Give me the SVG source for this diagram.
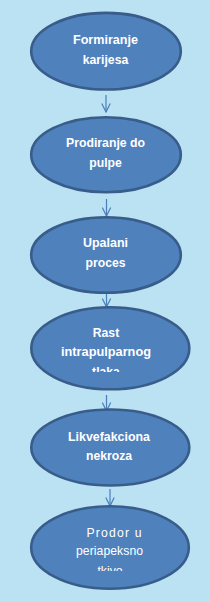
<svg xmlns="http://www.w3.org/2000/svg" width="210" height="602" viewBox="0 0 210 602">
<style>
.node ellipse{fill:#4F81BD;stroke:#385D8A;stroke-width:2.6}
.t{font-family:"Liberation Sans",Arial,sans-serif;font-size:12.2px;fill:#FFFFFF;text-anchor:middle}
.b{font-weight:bold}
.conn line{stroke:#4A7EBB;stroke-width:1.2;fill:none}
</style>
<defs>
<marker id="ah" viewBox="0 0 10 10" refX="9.5" refY="5" markerWidth="10" markerHeight="10" markerUnits="userSpaceOnUse" orient="auto">
<path d="M1,0.8 L9.5,5 L1,9.2" fill="none" stroke="#4A7EBB" stroke-width="1.2"/>
</marker>
<clipPath id="c4"><rect x="0" y="300" width="210" height="72"/></clipPath>
<clipPath id="c6"><rect x="0" y="500" width="210" height="71"/></clipPath>
</defs>
<rect x="0" y="0" width="210" height="602" fill="#BAE2F2"/>
<g class="conn">
<line x1="106" y1="95" x2="106" y2="112" marker-end="url(#ah)"/>
<line x1="106.5" y1="199" x2="106.5" y2="216" marker-end="url(#ah)"/>
<line x1="106.5" y1="292" x2="106.5" y2="307" marker-end="url(#ah)"/>
<line x1="106.5" y1="395" x2="106.5" y2="411" marker-end="url(#ah)"/>
<line x1="110" y1="489" x2="110" y2="506" marker-end="url(#ah)"/>
</g>
<g id="n1" class="node">
<ellipse cx="106" cy="51.2" rx="74.8" ry="38.3"/>
<text class="t b" x="105.5" y="43.8" textLength="65" lengthAdjust="spacingAndGlyphs">Formiranje</text>
<text class="t b" x="105.5" y="63.8">karijesa</text>
</g>
<g id="n2" class="node">
<ellipse cx="106" cy="154.7" rx="74.8" ry="37.5"/>
<text class="t b" x="105.5" y="146.7" textLength="79" lengthAdjust="spacingAndGlyphs">Prodiranje do</text>
<text class="t b" x="105.5" y="167">pulpe</text>
</g>
<g id="n3" class="node">
<ellipse cx="106" cy="255" rx="74.8" ry="37.8"/>
<text class="t b" x="105.5" y="247" textLength="45" lengthAdjust="spacingAndGlyphs">Upalani</text>
<text class="t b" x="105.5" y="266.7">proces</text>
</g>
<g id="n4" class="node">
<ellipse cx="110.3" cy="348.3" rx="79" ry="41"/>
<g clip-path="url(#c4)">
<text class="t b" x="106" y="337.3">Rast</text>
<text class="t b" x="106" y="356" textLength="90" lengthAdjust="spacingAndGlyphs">intrapulparnog</text>
<text class="t b" x="106" y="375.5">tlaka</text>
</g>
</g>
<g id="n5" class="node">
<ellipse cx="110.3" cy="447.5" rx="79" ry="38"/>
<text class="t b" x="109" y="441" textLength="82" lengthAdjust="spacingAndGlyphs">Likvefakciona</text>
<text class="t b" x="109" y="460">nekroza</text>
</g>
<g id="n6" class="node">
<ellipse cx="110" cy="547.5" rx="78.8" ry="41.3"/>
<g clip-path="url(#c6)">
<text class="t" x="114" y="536.7" textLength="55" lengthAdjust="spacing">Prodor u</text>
<text class="t" x="109.5" y="555" textLength="67" lengthAdjust="spacing">periapeksno</text>
<text class="t" x="110" y="574.5">tkivo</text>
</g>
</g>
</svg>
